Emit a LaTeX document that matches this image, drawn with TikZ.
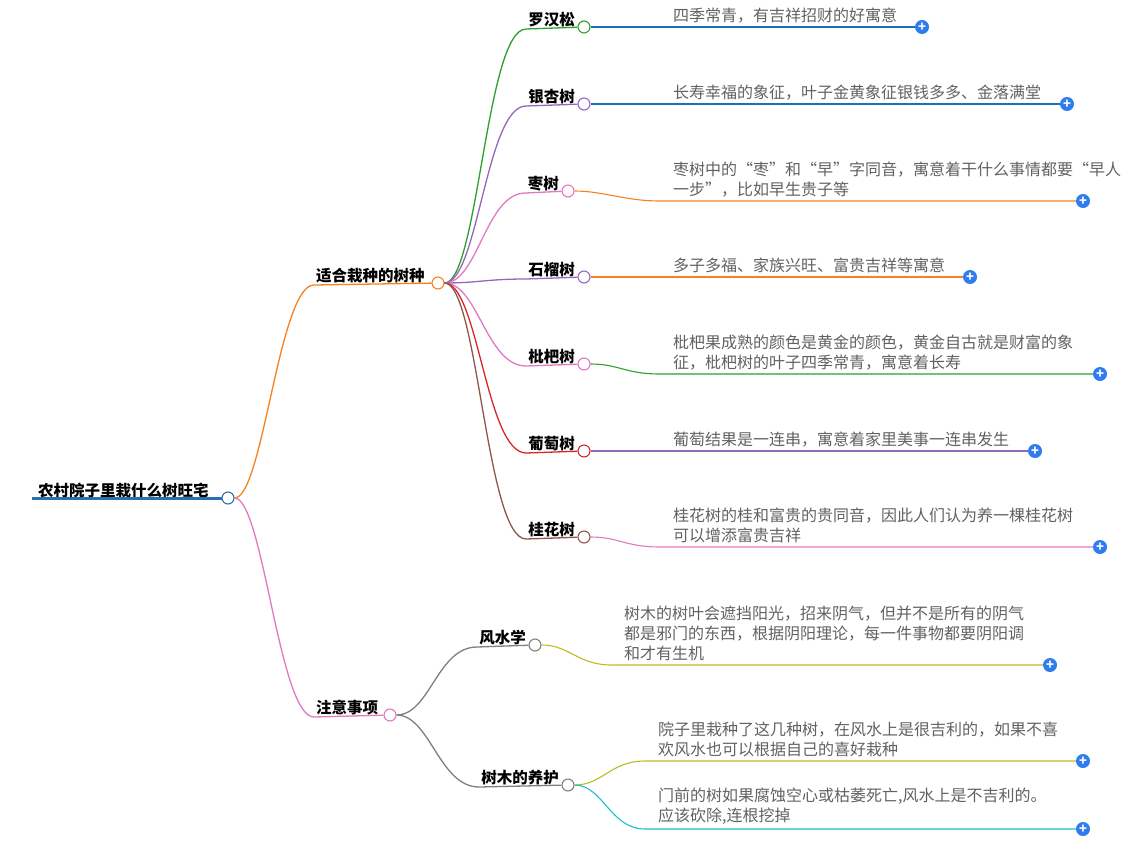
\documentclass[tikz,border=0pt]{standalone}
\usepackage{fontspec}
\setmainfont{Noto Sans CJK SC}
\usetikzlibrary{positioning}
\definecolor{rootblue}{HTML}{2A6FAE}
\definecolor{morange}{HTML}{F5821F}
\definecolor{mpink}{HTML}{E377C2}
\definecolor{mgreen}{HTML}{2CA02C}
\definecolor{mpurple}{HTML}{9467BD}
\definecolor{mred}{HTML}{D62728}
\definecolor{mbrown}{HTML}{8C564B}
\definecolor{mgray}{HTML}{7F7F7F}
\definecolor{mblue}{HTML}{1F6FB4}
\definecolor{molive}{HTML}{BCBD22}
\definecolor{mcyan}{HTML}{17BECF}
\definecolor{plusblue}{HTML}{2F7BF0}
\tikzset{
  % hollow joints on the branches
  hub/.style={circle,draw=#1,fill=white,line width=1.1pt,inner sep=0pt,minimum size=12pt},
  link/.style={draw=#1,line width=1.3pt},
  tag/.style={font=\bfseries\fontsize{15.5}{17}\selectfont,inner sep=2pt,anchor=south west},
  note/.style={font=\fontsize{16}{20}\selectfont,text=black!62,align=left,inner sep=1pt,anchor=south west},
  plusdot/.style={circle,fill=plusblue,inner sep=0pt,minimum size=14pt,text=white,
    font=\bfseries\fontsize{13}{13}\selectfont},
  bend/.style={to path={.. controls +(#1,0) and +(-#1,0) .. (\tikztotarget)}},
}
\begin{document}
\begin{tikzpicture}[x=1pt,y=-1pt]
\useasboundingbox (0,0) rectangle (1131,848);
% root
\node[tag,font=\bfseries\fontsize{15.5}{17}\selectfont] (root) at (36,500) {农村院子里栽什么树旺宅};
\draw[rootblue,line width=3pt] (32,498) -- (222,498);
\node[hub=rootblue] (rc) at (228,498) {};
% main branches
\node[tag] (b1) at (314,285) {适合栽种的树种};
\node[hub=morange] (b1c) at (438,283) {};
\draw[link=morange] (rc) to[bend=35] (b1.south west) -- (b1c);
\node[tag] (b2) at (314,717) {注意事项};
\node[hub=mpink] (b2c) at (390,715) {};
\draw[link=mpink] (rc) to[bend=35] (b2.south west) -- (b2c);
% trees
\foreach \nm/\txt/\yy/\cx/\col in {
  1/罗汉松/27/584/mgreen,
  2/银杏树/104/584/mpurple,
  3/枣树/191/568/mpink,
  4/石榴树/277/584/mpurple,
  5/枇杷树/364/584/mpink,
  6/葡萄树/451/584/mred,
  7/桂花树/537/584/mbrown}
{
  \node[tag,anchor=south east] (t\nm) at (\cx-7,\yy+2) {\txt};
  \node[hub=\col] (tc\nm) at (\cx,\yy) {};
  \draw[link=\col] (b1c) to[bend=40] (t\nm.south west) -- (tc\nm);
}
\foreach \nm/\yy/\ncol/\px/\note in {
  1/27/mblue/922/{四季常青，有吉祥招财的好寓意},
  2/104/mblue/1067/{长寿幸福的象征，叶子金黄象征银钱多多、金落满堂},
  3/201/morange/1083/{枣树中的“枣”和“早”字同音，寓意着干什么事情都要“早人\\一步”，比如早生贵子等},
  4/277/morange/970/{多子多福、家族兴旺、富贵吉祥等寓意},
  5/374/mgreen/1100/{枇杷果成熟的颜色是黄金的颜色，黄金自古就是财富的象\\征，枇杷树的叶子四季常青，寓意着长寿},
  6/451/mpurple/1035/{葡萄结果是一连串，寓意着家里美事一连串发生},
  7/547/mpink/1100/{桂花树的桂和富贵的贵同音，因此人们认为养一棵桂花树\\可以增添富贵吉祥}}
{
  \node[note] (n\nm) at (672,\yy-3) {\note};
  \coordinate (ns\nm) at (660,\yy);
  \node[plusdot] (p\nm) at (\px,\yy) {+};
  \draw[link=\ncol,line width=1.1pt] (tc\nm) to[bend=35] (ns\nm) -- (p\nm);
}
% care notes
\node[tag,anchor=south east] (f1) at (528,647) {风水学};
\node[hub=mgray] (fc1) at (535,645) {};
\draw[link=mgray] (b2c) to[bend=40] (f1.south west) -- (fc1);
\node[tag,anchor=south east] (f2) at (561,787) {树木的养护};
\node[hub=mgray] (fc2) at (568,785) {};
\draw[link=mgray] (b2c) to[bend=40] (f2.south west) -- (fc2);
\node[note] (g1) at (623,662) {树木的树叶会遮挡阳光，招来阴气，但并不是所有的阴气\\都是邪门的东西，根据阴阳理论，每一件事物都要阴阳调\\和才有生机};
\node[plusdot] (q1) at (1050,665) {+};
\draw[link=molive,line width=1.1pt] (fc1) to[bend=35] (612,665) -- (q1);
\node[note] (g2) at (657,758) {院子里栽种了这几种树，在风水上是很吉利的，如果不喜\\欢风水也可以根据自己的喜好栽种};
\node[plusdot] (q2) at (1083,761) {+};
\draw[link=molive,line width=1.1pt] (fc2) to[bend=35] (645,761) -- (q2);
\node[note] (g3) at (657,826) {门前的树如果腐蚀空心或枯萎死亡,风水上是不吉利的。\\应该砍除,连根挖掉};
\node[plusdot] (q3) at (1083,829) {+};
\draw[link=mcyan,line width=1.1pt] (fc2) to[bend=35] (645,829) -- (q3);
\end{tikzpicture}
\end{document}
